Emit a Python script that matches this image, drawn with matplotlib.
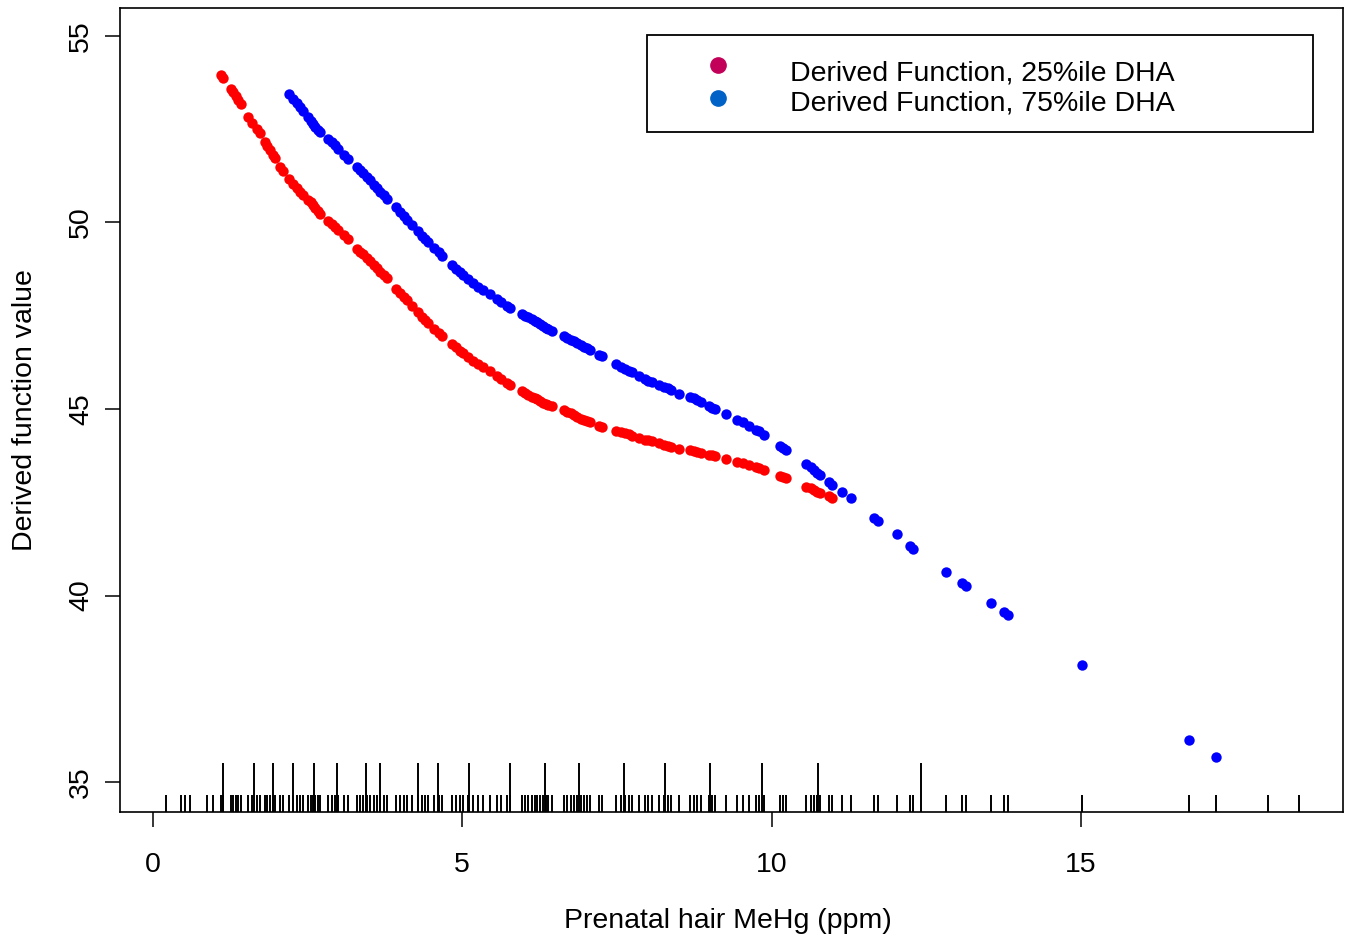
import matplotlib
matplotlib.use("Agg")
import matplotlib.pyplot as plt
from matplotlib.patches import Rectangle
import matplotlib.transforms as mtransforms

plt.rcParams['font.family'] = ['Liberation Sans', 'DejaVu Sans']

# observed prenatal hair MeHg values (short rug)
rug_x = [0.21, 0.46, 0.53, 0.60, 0.87, 0.97, 1.11, 1.14, 1.26, 1.30, 1.34, 1.38, 1.42,
         1.54, 1.61, 1.68, 1.73, 1.81, 1.85, 1.89, 1.94, 1.97, 2.06, 2.11, 2.21, 2.27,
         2.33, 2.38, 2.43, 2.51, 2.55, 2.59, 2.63, 2.67, 2.71, 2.84, 2.90, 2.94, 3.00,
         3.09, 3.16, 3.30, 3.35, 3.40, 3.46, 3.51, 3.58, 3.63, 3.68, 3.73, 3.78, 3.93,
         4.00, 4.06, 4.11, 4.19, 4.28, 4.35, 4.40, 4.45, 4.55, 4.62, 4.68, 4.83, 4.90,
         4.96, 5.02, 5.10, 5.18, 5.26, 5.34, 5.45, 5.56, 5.63, 5.72, 5.78, 5.97, 6.02,
         6.07, 6.13, 6.18, 6.21, 6.26, 6.31, 6.35, 6.38, 6.45, 6.64, 6.69, 6.75, 6.80,
         6.86, 6.92, 6.97, 7.02, 7.06, 7.21, 7.26, 7.48, 7.57, 7.63, 7.69, 7.75, 7.85,
         7.96, 8.01, 8.07, 8.18, 8.26, 8.32, 8.38, 8.51, 8.68, 8.74, 8.80, 8.86, 8.99,
         9.04, 9.09, 9.26, 9.44, 9.53, 9.63, 9.74, 9.80, 9.88, 10.13, 10.18, 10.23,
         10.55, 10.63, 10.68, 10.74, 10.78, 10.92, 10.98, 11.14, 11.28, 11.65, 11.72,
         12.02, 12.24, 12.29, 12.82, 13.07, 13.14, 13.54, 13.75, 13.81, 15.01, 16.75,
         17.18, 18.02, 18.52]

# tall rug marks
rug_tall = [1.14, 1.64, 1.94, 2.27, 2.61, 2.98, 3.45, 3.67, 4.28, 4.61, 5.11, 5.78,
            6.34, 6.88, 7.61, 8.27, 9.01, 9.85, 10.75, 12.42]

# derived function, 25%ile DHA
red_x = [1.11, 1.14, 1.26, 1.30, 1.34, 1.38, 1.42, 1.54, 1.61, 1.68, 1.73, 1.81, 1.85,
         1.89, 1.94, 1.97, 2.06, 2.11, 2.21, 2.27, 2.33, 2.38, 2.43, 2.51, 2.55, 2.59,
         2.63, 2.67, 2.71, 2.84, 2.90, 2.94, 3.00, 3.09, 3.16, 3.30, 3.35, 3.40, 3.46,
         3.51, 3.58, 3.63, 3.68, 3.73, 3.78, 3.93, 4.00, 4.06, 4.11, 4.19, 4.28, 4.35,
         4.40, 4.45, 4.55, 4.62, 4.68, 4.83, 4.90, 4.96, 5.02, 5.10, 5.18, 5.26, 5.34,
         5.45, 5.56, 5.63, 5.72, 5.78, 5.97, 6.02, 6.07, 6.13, 6.18, 6.21, 6.26, 6.31,
         6.35, 6.38, 6.45, 6.64, 6.69, 6.75, 6.80, 6.86, 6.92, 6.97, 7.02, 7.06, 7.21,
         7.26, 7.48, 7.57, 7.63, 7.69, 7.75, 7.85, 7.96, 8.01, 8.07, 8.18, 8.26, 8.32,
         8.38, 8.51, 8.68, 8.74, 8.80, 8.86, 8.99, 9.04, 9.09, 9.26, 9.44, 9.53, 9.63,
         9.74, 9.80, 9.88, 10.13, 10.18, 10.23, 10.55, 10.63, 10.68, 10.74, 10.78,
         10.92, 10.98]
red_y = [53.95, 53.88, 53.58, 53.49, 53.38, 53.28, 53.17, 52.83, 52.66, 52.50, 52.39,
         52.17, 52.05, 51.94, 51.81, 51.73, 51.50, 51.39, 51.16, 51.04, 50.92, 50.83,
         50.75, 50.61, 50.54, 50.47, 50.39, 50.31, 50.24, 50.04, 49.95, 49.88, 49.79,
         49.66, 49.55, 49.30, 49.22, 49.15, 49.06, 48.98, 48.87, 48.78, 48.68, 48.59,
         48.50, 48.23, 48.11, 48.01, 47.92, 47.77, 47.60, 47.47, 47.39, 47.31, 47.15,
         47.04, 46.95, 46.74, 46.65, 46.56, 46.49, 46.40, 46.30, 46.21, 46.13, 46.01,
         45.89, 45.81, 45.71, 45.65, 45.47, 45.43, 45.38, 45.33, 45.29, 45.26, 45.22,
         45.17, 45.14, 45.11, 45.07, 44.96, 44.93, 44.89, 44.84, 44.79, 44.74, 44.70,
         44.67, 44.64, 44.54, 44.52, 44.42, 44.38, 44.35, 44.32, 44.28, 44.23, 44.18,
         44.16, 44.13, 44.08, 44.04, 44.01, 43.99, 43.94, 43.89, 43.88, 43.86, 43.83,
         43.78, 43.76, 43.73, 43.65, 43.59, 43.54, 43.50, 43.45, 43.42, 43.36, 43.20,
         43.17, 43.14, 42.92, 42.87, 42.83, 42.78, 42.75, 42.66, 42.62]

# derived function, 75%ile DHA
blue_x = [2.21, 2.27, 2.33, 2.38, 2.43, 2.51, 2.55, 2.59, 2.63, 2.67, 2.71, 2.84, 2.90,
          2.94, 3.00, 3.09, 3.16, 3.30, 3.35, 3.40, 3.46, 3.51, 3.58, 3.63, 3.68, 3.73,
          3.78, 3.93, 4.00, 4.06, 4.11, 4.19, 4.28, 4.35, 4.40, 4.45, 4.55, 4.62, 4.68,
          4.83, 4.90, 4.96, 5.02, 5.10, 5.18, 5.26, 5.34, 5.45, 5.56, 5.63, 5.72, 5.78,
          5.97, 6.02, 6.07, 6.13, 6.18, 6.21, 6.26, 6.31, 6.35, 6.38, 6.45, 6.64, 6.69,
          6.75, 6.80, 6.86, 6.92, 6.97, 7.02, 7.06, 7.21, 7.26, 7.48, 7.57, 7.63, 7.69,
          7.75, 7.85, 7.96, 8.01, 8.07, 8.18, 8.26, 8.32, 8.38, 8.51, 8.68, 8.74, 8.80,
          8.86, 8.99, 9.04, 9.09, 9.26, 9.44, 9.53, 9.63, 9.74, 9.80, 9.88, 10.13, 10.18,
          10.23, 10.55, 10.63, 10.68, 10.74, 10.78, 10.92, 10.98, 11.14, 11.28, 11.65,
          11.72, 12.02, 12.24, 12.29, 12.82, 13.07, 13.14, 13.54, 13.75, 13.81, 15.01,
          16.75, 17.18]
blue_y = [53.45, 53.32, 53.20, 53.10, 52.99, 52.82, 52.73, 52.65, 52.57, 52.49, 52.42,
          52.25, 52.17, 52.09, 51.98, 51.81, 51.69, 51.48, 51.41, 51.32, 51.22, 51.13,
          51.01, 50.92, 50.83, 50.73, 50.64, 50.41, 50.29, 50.17, 50.08, 49.93, 49.77,
          49.65, 49.57, 49.48, 49.32, 49.20, 49.10, 48.85, 48.75, 48.67, 48.59, 48.48,
          48.37, 48.28, 48.19, 48.07, 47.94, 47.87, 47.77, 47.70, 47.54, 47.50, 47.46,
          47.40, 47.35, 47.32, 47.27, 47.22, 47.18, 47.15, 47.09, 46.95, 46.91, 46.86,
          46.82, 46.76, 46.71, 46.67, 46.63, 46.59, 46.46, 46.41, 46.21, 46.13, 46.08,
          46.03, 45.98, 45.89, 45.80, 45.76, 45.73, 45.65, 45.59, 45.55, 45.51, 45.41,
          45.32, 45.29, 45.24, 45.18, 45.08, 45.04, 45.00, 44.86, 44.71, 44.64, 44.55,
          44.45, 44.40, 44.31, 44.01, 43.95, 43.89, 43.53, 43.44, 43.36, 43.28, 43.22,
          43.05, 42.97, 42.78, 42.61, 42.07, 42.00, 41.64, 41.33, 41.26, 40.64, 40.33,
          40.25, 39.81, 39.55, 39.48, 38.14, 36.13, 35.67]

x_ticks = [0, 5, 10, 15]
y_ticks = [35, 40, 45, 50, 55]
legend_labels = ["Derived Function, 25%ile DHA", "Derived Function, 75%ile DHA"]
legend_colors = ["#C2005A", "#0062C6"]

fig = plt.figure(figsize=(13.52, 9.36), dpi=100)
ax = fig.add_axes([120 / 1352, 124 / 936, 1223 / 1352, 804 / 936])

ax.scatter(red_x, red_y, s=56, color="#FF0000", linewidths=0, zorder=3)
ax.scatter(blue_x, blue_y, s=56, color="#0000FF", linewidths=0, zorder=3)

# rug marks along the bottom
trans = mtransforms.blended_transform_factory(ax.transData, ax.transAxes)
ax.vlines(rug_x, 0, 0.0211, transform=trans, color="black", linewidth=1.4)
ax.vlines(rug_tall, 0, 0.061, transform=trans, color="black", linewidth=1.4)

ax.set_xlim(-0.528, 19.23)
ax.set_ylim(34.196, 55.75)
ax.set_xticks(x_ticks)
ax.set_yticks(y_ticks)
ax.set_yticklabels([str(v) for v in y_ticks], rotation=90, va="center")
ax.tick_params(axis="both", labelsize=20.5, length=10.5, width=1.1, color="black")
ax.tick_params(axis="x", pad=18)
ax.tick_params(axis="y", pad=8)
for sp in ax.spines.values():
    sp.set_linewidth(1.2)

ax.set_xlabel("Prenatal hair MeHg (ppm)", fontsize=20.5)
ax.xaxis.set_label_coords(0.497, -0.1195)
ax.set_ylabel("Derived function value", fontsize=20.5)
ax.yaxis.set_label_coords(-0.0667, 0.5)

# legend box, drawn like the R legend
ax.add_patch(Rectangle((0.4309, 0.8461), 0.5446, 0.1203, transform=ax.transAxes,
                       facecolor="white", edgecolor="black", linewidth=1.3, zorder=4))
for i, (lab, col) in enumerate(zip(legend_labels, legend_colors)):
    ax.plot([0.4892], [0.9291 - i * 0.0414], "o", color=col, markersize=11,
            transform=ax.transAxes, zorder=5)
    ax.text(0.5478, 0.9104 - i * 0.0382, lab, transform=ax.transAxes, fontsize=20.5,
            va="baseline", ha="left", zorder=5)

plt.savefig("out.png", dpi=100)
